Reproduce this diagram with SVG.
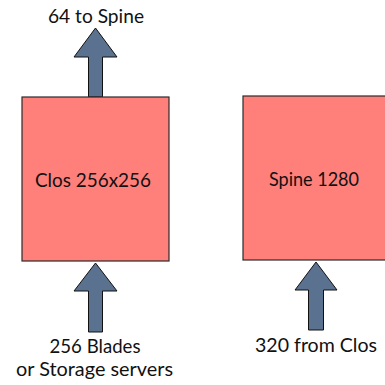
<svg xmlns="http://www.w3.org/2000/svg" width="385" height="385" viewBox="0 0 385 385">
  <style>
    .box { fill: #ff7f7a; stroke: #2b2b2b; stroke-width: 1.2; }
    .arrow { fill: #5b7190; stroke: #111; stroke-width: 1; stroke-linejoin: miter; }
    text { font-family: Lato, "Open Sans", "Liberation Sans", sans-serif; font-size: 19px; fill: #111; text-anchor: middle; }
  </style>
  <rect width="385" height="385" fill="#ffffff"/>

  <g id="connectors">
    <!-- uplink arrow above the Clos block -->
    <polygon class="arrow" points="95.5,28 117,57 102.5,57 102.5,97 88.5,97 88.5,57 74,57"/>
    <!-- server arrow into the Clos block -->
    <polygon class="arrow" points="95.5,263 117,291 102.5,291 102.5,332 88.5,332 88.5,291 74,291"/>
    <!-- arrow into the spine block -->
    <polygon class="arrow" points="316,262 337,290 323.5,290 323.5,330 308.5,330 308.5,290 295,290"/>
  </g>

  <g id="clos">
    <rect class="box" x="22" y="97" width="147" height="164"/>
    <text x="93" y="187" textLength="116" lengthAdjust="spacingAndGlyphs">Clos 256x256</text>
  </g>

  <g id="spine">
    <rect class="box" x="243" y="96" width="150" height="164"/>
    <text x="314" y="186" textLength="90" lengthAdjust="spacingAndGlyphs">Spine 1280</text>
  </g>

  <g id="label-uplink">
    <text x="96" y="23" textLength="96" lengthAdjust="spacingAndGlyphs">64 to Spine</text>
  </g>

  <g id="label-servers">
    <text x="95" y="353" textLength="91" lengthAdjust="spacingAndGlyphs">256 Blades</text>
    <text x="94.5" y="376" textLength="157" lengthAdjust="spacingAndGlyphs">or Storage servers</text>
  </g>

  <g id="label-from-clos">
    <text x="316" y="352" textLength="122" lengthAdjust="spacingAndGlyphs">320 from Clos</text>
  </g>
</svg>
